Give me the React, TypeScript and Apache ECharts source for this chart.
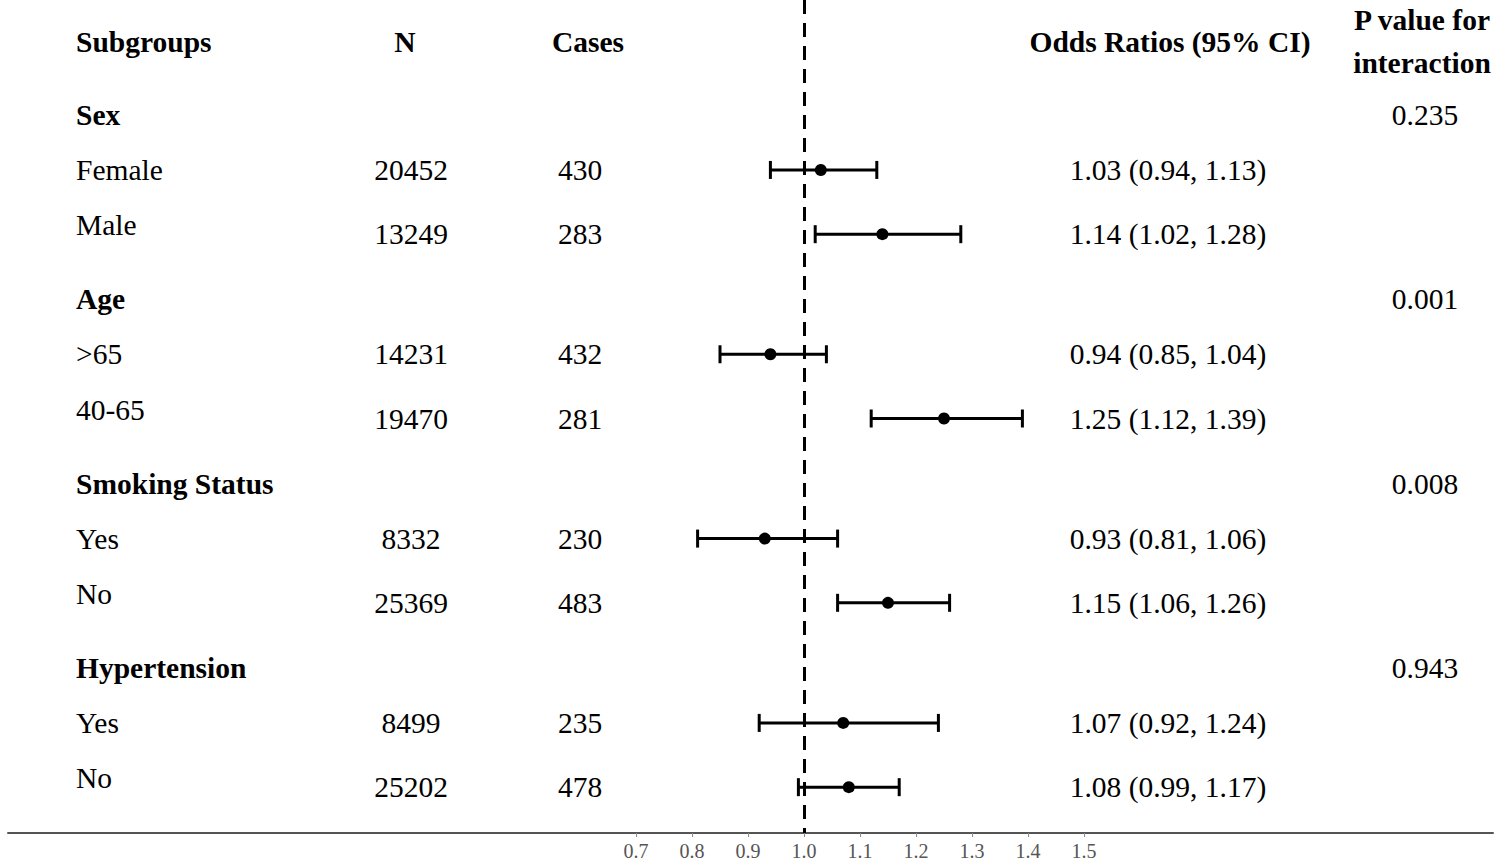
import React, { useEffect, useRef } from "react";
import * as echarts from "echarts";

const subgroupLabels = ["Sex", "Female", "Male", "Age", ">65", "40-65", "Smoking Status", "Yes", "No", "Hypertension", "Yes", "No"];
const isGroupRow = [true, false, false, true, false, false, true, false, false, true, false, false];
const nValues = [null, 20452, 13249, null, 14231, 19470, null, 8332, 25369, null, 8499, 25202];
const caseValues = [null, 430, 283, null, 432, 281, null, 230, 483, null, 235, 478];
const oddsRatios = [null, 1.03, 1.14, null, 0.94, 1.25, null, 0.93, 1.15, null, 1.07, 1.08];
const lowerCI = [null, 0.94, 1.02, null, 0.85, 1.12, null, 0.81, 1.06, null, 0.92, 0.99];
const upperCI = [null, 1.13, 1.28, null, 1.04, 1.39, null, 1.06, 1.26, null, 1.24, 1.17];
const pInteraction = ["0.235", "", "", "0.001", "", "", "0.008", "", "", "0.943", "", ""];
const xTickValues = [0.7, 0.8, 0.9, 1.0, 1.1, 1.2, 1.3, 1.4, 1.5];
const referenceValue = 1;

const FONT = "'Liberation Serif', 'Times New Roman', serif";
const FS = 29.5;

export default function App() {
  const ref = useRef<HTMLDivElement>(null);

  useEffect(() => {
    if (!ref.current) return;
    const chart = echarts.init(ref.current, null, { renderer: "svg" });

    const rowIdx = subgroupLabels.map((_, i) => i);

    // layout nudge: first subgroup row sits a bit closer to its group header
    const rowShift = (i: number) => {
      if (isGroupRow[i]) return 0;
      if (i > 0 && isGroupRow[i - 1]) return -6.5;
      return -3.7;
    };
    const isSecondSub = (i: number) => !isGroupRow[i] && i > 0 && !isGroupRow[i - 1];

    const textColumn = (getText: (i: number) => string, x: number, align: string, opts: any = {}) => ({
      type: "custom",
      silent: true,
      data: rowIdx.map((i) => [referenceValue, i]),
      renderItem: (params: any, api: any) => {
        const i = params.dataIndex;
        const t = getText(i);
        if (!t) return null;
        const y = api.coord([referenceValue, api.value(1)])[1] + rowShift(i);
        const dy = opts.dyFn ? opts.dyFn(i) : 0;
        const bold = opts.boldFn ? opts.boldFn(i) : false;
        return {
          type: "text",
          x,
          y: y + dy,
          style: {
            text: t,
            fill: "#000",
            font: `${bold ? "bold " : ""}${FS}px ${FONT}`,
            align,
            verticalAlign: "middle",
          },
        };
      },
    });

    const headerStyle = (text: string, x: number, y: number, align: string) => ({
      type: "text",
      x,
      y,
      style: {
        text,
        fill: "#000",
        font: `bold ${FS}px ${FONT}`,
        align,
        verticalAlign: "middle",
      },
    });

    const ciRows = rowIdx.filter((i) => oddsRatios[i] != null);

    chart.setOption({
      animation: false,
      backgroundColor: "#fff",
      grid: { left: 8, right: 7, top: 0, height: 833, containLabel: false },
      xAxis: {
        type: "value",
        min: -0.42143,
        max: 2.23036,
        splitLine: { show: false },
        axisLine: { show: true, onZero: false, lineStyle: { color: "#555", width: 2 } },
        axisTick: { show: true, length: 4, customValues: xTickValues, lineStyle: { color: "#888", width: 1 } },
        axisLabel: {
          customValues: xTickValues,
          formatter: (v: number) => v.toFixed(1),
          color: "#555",
          fontFamily: FONT,
          fontSize: 20,
          margin: 8,
        },
      },
      yAxis: {
        type: "value",
        inverse: true,
        min: -1.8716,
        max: 11.686,
        show: false,
      },
      graphic: [
        headerStyle("Subgroups", 76, 42, "left"),
        headerStyle("N", 405, 42, "center"),
        headerStyle("Cases", 588, 42, "center"),
        headerStyle("Odds Ratios (95% CI)", 1170, 42, "center"),
        headerStyle("P value for", 1422, 20, "center"),
        headerStyle("interaction", 1422, 63, "center"),
      ],
      series: [
        {
          type: "custom",
          silent: true,
          data: ciRows.map((i) => [lowerCI[i], upperCI[i], oddsRatios[i], i]),
          encode: { x: [0, 1, 2], y: 3 },
          renderItem: (params: any, api: any) => {
            const row = api.value(3);
            const sh = rowShift(row);
            const p1 = api.coord([api.value(0), row]);
            const p2 = api.coord([api.value(1), row]);
            const pc = api.coord([api.value(2), row]);
            const y = p1[1] + sh;
            const h = 9;
            const st = { stroke: "#000", lineWidth: 3 };
            return {
              type: "group",
              children: [
                { type: "line", shape: { x1: p1[0], y1: y, x2: p2[0], y2: y }, style: st },
                { type: "line", shape: { x1: p1[0], y1: y - h, x2: p1[0], y2: y + h }, style: st },
                { type: "line", shape: { x1: p2[0], y1: y - h, x2: p2[0], y2: y + h }, style: st },
                { type: "circle", shape: { cx: pc[0], cy: y, r: 6 }, style: { fill: "#000" } },
              ],
            };
          },
          z: 3,
        },
        {
          type: "scatter",
          silent: true,
          symbolSize: 0,
          data: [],
          markLine: {
            silent: true,
            symbol: "none",
            label: { show: false },
            lineStyle: { color: "#000", width: 3, type: [14, 9], opacity: 1 },
            data: [{ xAxis: referenceValue }],
          },
          z: 5,
        },
        textColumn((i) => subgroupLabels[i], 76, "left", {
          boldFn: (i: number) => isGroupRow[i],
          dyFn: (i: number) => (isSecondSub(i) ? -9 : 0),
        }),
        textColumn((i) => (nValues[i] == null ? "" : String(nValues[i])), 411, "center"),
        textColumn((i) => (caseValues[i] == null ? "" : String(caseValues[i])), 580, "center"),
        textColumn(
          (i) =>
            oddsRatios[i] == null
              ? ""
              : `${(oddsRatios[i] as number).toFixed(2)} (${(lowerCI[i] as number).toFixed(2)}, ${(upperCI[i] as number).toFixed(2)})`,
          1168,
          "center"
        ),
        textColumn((i) => pInteraction[i], 1425, "center"),
      ],
    });

    return () => chart.dispose();
  }, []);

  return <div ref={ref} style={{ position: "fixed", left: 0, top: 0, width: 1500, height: 865 }} />;
}
